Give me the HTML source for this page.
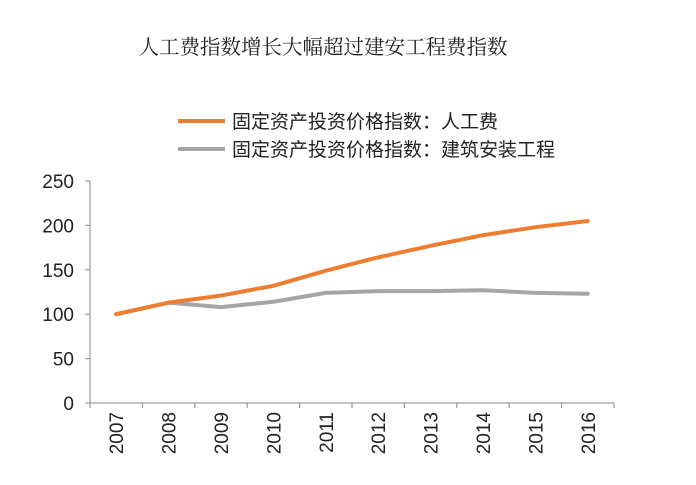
<!DOCTYPE html>
<html><head><meta charset="utf-8"><style>
body{margin:0;background:#fff;}
svg{display:block;font-family:"Liberation Sans","Noto Sans CJK SC",sans-serif;}
</style></head><body>
<svg width="696" height="485">
<text x="323" y="54" text-anchor="middle" font-size="20.5" fill="#222" font-family="'Liberation Serif','Noto Serif CJK SC',serif">人工费指数增长大幅超过建安工程费指数</text>
<g>
<line x1="178" y1="121" x2="225" y2="121" stroke="#ED7D31" stroke-width="4"/>
<text x="232" y="128" font-size="19" fill="#222">固定资产投资价格指数：人工费</text>
<line x1="178" y1="149" x2="225" y2="149" stroke="#A5A5A5" stroke-width="4"/>
<text x="232" y="156" font-size="19" fill="#222">固定资产投资价格指数：建筑安装工程</text>
</g>
<g id="axes"></g>
<g id="plot"></g>
</svg>
<script>
const categories=["2007","2008","2009","2010","2011","2012","2013","2014","2015","2016"];
const laborValues=[100,113,121,132,149,164,177,189,198,205];
const constructionValues=[100,113,108,114,124,126,126,127,124,123];
const yTicks=[0,50,100,150,200,250];
const NS="http://www.w3.org/2000/svg";
const x0=90,x1=614,yBase=403,yTop=181,yMax=250;
const step=(x1-x0)/categories.length;
function xs(i){return x0+step*(i+0.5);}
function ys(v){return yBase-(v/yMax)*(yBase-yTop);}
const axes=document.getElementById('axes'),plot=document.getElementById('plot');
function mk(t,a,p){const e=document.createElementNS(NS,t);for(const k in a)e.setAttribute(k,a[k]);p.appendChild(e);return e;}
let ya=mk('line',{x1:x0,y1:yTop,x2:x0,y2:yBase,stroke:'#888','stroke-width':1},axes);


let xa=mk('line',{x1:x0,y1:yBase,x2:x1,y2:yBase,stroke:'#888','stroke-width':1},axes);


yTicks.forEach(v=>{
 const y=ys(v);
 let tk=mk('line',{x1:x0-5,y1:y,x2:x0,y2:y,stroke:'#888'},axes);
 
 
 let t=mk('text',{x:x0-16,y:y+7,'text-anchor':'end','font-size':19,fill:'#222'},axes);
 t.textContent=v;
 
 
});
for(let i=0;i<=categories.length;i++){
 const x=x0+step*i;
 let tk=mk('line',{x1:x,y1:yBase,x2:x,y2:yBase+5,stroke:'#888'},axes);
 
 
}
categories.forEach((c,i)=>{
 const x=xs(i)+7,y=yBase+9;
 let t=mk('text',{x:x,y:y,'text-anchor':'end','font-size':19,fill:'#222',transform:`rotate(-90 ${x} ${y})`},axes);
 t.textContent=c;
 
 
});
function series(vals,color,name){
 const d=vals.map((v,i)=>(i?'L':'M')+xs(i)+' '+ys(v)).join(' ');
 let p=mk('path',{d:d,fill:'none',stroke:color,'stroke-width':4,'stroke-linejoin':'round','stroke-linecap':'round'},plot);
 
 
}
series(constructionValues,'#A5A5A5','construction-line');
series(laborValues,'#ED7D31','labor-line');
</script>
</body></html>
